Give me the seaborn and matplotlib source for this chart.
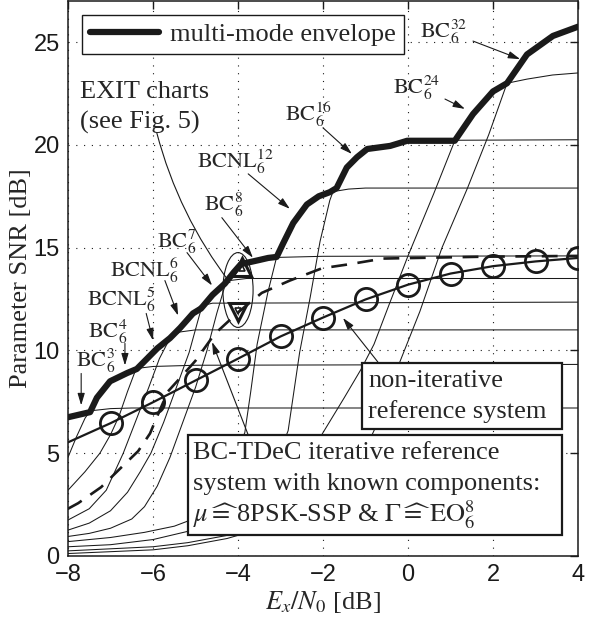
import matplotlib
matplotlib.use("Agg")
import matplotlib.pyplot as plt
import seaborn as sns
from matplotlib.patches import Ellipse, Rectangle

# ---------------- data ----------------
bc3_x = [-8, -7.8, -7.6, -7.4, -7.0, -6.5, -5.0, 4]
bc3_y = [6.72, 6.8, 6.95, 7.08, 7.17, 7.2, 7.2, 7.2]

bc4_x = [-8, -7.8, -7.6, -7.45, -7.3, -7.1, -6.9, -6.6, -6.4, -6.0, -5.0, 4]
bc4_y = [4.8, 5.8, 6.7, 7.15, 7.7, 8.2, 8.6, 8.95, 9.12, 9.22, 9.28, 9.32]

bcnl5_x = [-8, -7.6, -7.25, -7.0, -6.8, -6.6, -6.4, -6.15, -5.9, -5.6, -5.36, -5.0, 4]
bcnl5_y = [3.2, 4.1, 5.0, 5.9, 6.8, 8.0, 9.1, 9.6, 10.1, 10.65, 10.9, 11.0, 11.0]

bcnl6_x = [-8, -7.5, -7.1, -6.7, -6.4, -6.1, -5.85, -5.6, -5.36, -5.06, -4.9, -4.6, 4]
bcnl6_y = [1.75, 2.3, 3.2, 5.0, 6.6, 8.2, 9.6, 10.6, 11.15, 11.8, 12.15, 12.3, 12.35]

bc7_x = [-8, -7.5, -7.0, -6.6, -6.3, -6.05, -5.75, -5.45, -5.15, -4.87, -4.6, -4.4, -4.2, -3.8, 4]
bc7_y = [1.26, 1.6, 2.2, 3.1, 4.1, 5.0, 6.5, 8.2, 9.9, 12.0, 12.7, 13.1, 13.4, 13.5, 13.5]

bc8_x = [-8, -7.5, -7.0, -6.5, -6.2, -5.9, -5.6, -5.3, -5.0, -4.73, -4.5, -4.3, -4.1,
         -3.93, -3.6, -3.29, -3.0, -2.0, 4]
bc8_y = [0.95, 1.1, 1.35, 1.8, 2.4, 3.4, 4.8, 6.5, 8.2, 10.0, 11.8, 13.2, 13.8,
         14.2, 14.4, 14.5, 14.53, 14.58, 14.6]

bcnl12_x = [-8, -7, -6.2, -5.5, -5.18, -4.8, -4.5, -4.2, -3.84, -3.7, -3.55, -3.3, -3.09,
            -2.94, -2.7, -2.38, -2.1, -1.84, -1.4, -1.0, 4]
bcnl12_y = [0.7, 0.9, 1.15, 1.45, 1.7, 2.2, 3.0, 4.3, 6.0, 8.0, 10.3, 12.8, 14.55,
            15.2, 16.2, 17.1, 17.5, 17.7, 17.85, 17.9, 17.9]

bc16_x = [-8, -7, -6, -5.18, -4.6, -4.0, -3.5, -3.1, -2.82, -2.55, -2.3, -2.07, -1.84,
          -1.76, -1.6, -1.44, -1.2, -0.96, -0.42, -0.02, 0.5, 4]
bc16_y = [0.45, 0.55, 0.8, 1.2, 1.6, 2.3, 3.3, 4.6, 6.1, 9.9, 12.6, 15.3, 17.3,
          17.75, 18.3, 18.9, 19.4, 19.8, 19.95, 20.2, 20.22, 20.25]

bc24_x = [-8, -6, -5.18, -4.26, -3.5, -2.8, -2.0, -1.5, -1.1, -0.8, -0.45, 0.0, 0.6,
          1.1, 1.53, 2.0, 2.33, 2.8, 3.4, 4]
bc24_y = [0.25, 0.45, 0.65, 1.0, 1.8, 3.2, 6.0, 7.7, 9.1, 10.3, 12.2, 14.6, 17.6,
          20.2, 21.5, 22.6, 23.0, 23.2, 23.4, 23.5]

bc32_x = [-8, -6, -5.18, -4.26, -3.5, -2.5, -1.5, -1.0, -0.6, -0.2, 0.28, 0.8, 1.4,
          1.9, 2.33, 2.8, 3.41, 4.0]
bc32_y = [0.12, 0.3, 0.5, 0.85, 1.3, 2.2, 3.8, 5.2, 7.0, 9.4, 11.9, 15.0, 17.9,
          20.5, 23.0, 24.4, 25.3, 25.75]

env_x = [-8, -7.48, -7.32, -7.01, -6.61, -6.38, -6.14, -5.9, -5.6, -5.36, -5.06, -4.87,
         -4.6, -4.31, -4.1, -3.93, -3.5, -3.29, -3.09, -2.94, -2.7, -2.38, -2.1, -1.84,
         -1.68, -1.44, -1.2, -0.96, -0.42, -0.02, 1.1, 1.53, 2.0, 2.33, 2.8, 3.41, 4.0]
env_y = [6.75, 7.0, 7.7, 8.5, 8.9, 9.1, 9.6, 10.1, 10.6, 11.1, 11.8, 12.04,
         12.7, 13.25, 13.8, 14.2, 14.4, 14.5, 14.55, 15.2, 16.2, 17.1, 17.5, 17.7,
         17.9, 18.9, 19.4, 19.8, 19.95, 20.2, 20.2, 21.5, 22.6, 23.0, 24.4, 25.3, 25.75]

nonit_x = [-8, -7, -6, -5, -4, -3, -2, -1, 0, 1, 2, 3, 4]
nonit_y = [5.53, 6.46, 7.48, 8.54, 9.6, 10.68, 11.6, 12.48, 13.2, 13.74, 14.1, 14.33, 14.5]

tdec_x = [-8, -7.76, -7.22, -6.75, -6.35, -6.07, -5.88, -5.65, -5.3, -5.0, -4.55, -4.0,
          -3.44, -2.78, -2.02, -1.36, -0.59, 0.2, 1.76, 4]
tdec_y = [2.3, 2.57, 3.35, 4.3, 5.1, 5.96, 6.9, 8.0, 8.8, 9.5, 10.8, 11.85,
          12.8, 13.4, 14.0, 14.2, 14.47, 14.5, 14.56, 14.6]

exit_up = (-3.91, 14.07)
exit_down = (-3.99, 11.88)

curve_labels = [r"$\mathrm{BC}_6^{32}$", r"$\mathrm{BC}_6^{24}$", r"$\mathrm{BC}_6^{16}$",
                r"$\mathrm{BCNL}_6^{12}$", r"$\mathrm{BC}_6^{8}$", r"$\mathrm{BC}_6^{7}$",
                r"$\mathrm{BCNL}_6^{6}$", r"$\mathrm{BCNL}_6^{5}$", r"$\mathrm{BC}_6^{4}$",
                r"$\mathrm{BC}_6^{3}$"]
label_pos = [(0.85, 25.5), (0.21, 22.8), (-2.33, 21.5), (-4.05, 19.2), (-4.33, 17.1),
             (-5.44, 15.3), (-6.21, 13.9), (-6.75, 12.45), (-7.06, 10.9), (-7.36, 9.5)]
arrow_from = [(1.53, 25.05), (0.87, 22.23), (-2.0, 20.83), (-3.76, 18.59), (-4.38, 16.46),
              (-5.2, 14.76), (-5.72, 13.4), (-6.16, 11.8), (-6.66, 10.34), (-7.69, 8.88)]
arrow_to = [(2.64, 24.17), (1.34, 21.75), (-1.32, 19.56), (-2.78, 16.89), (-3.65, 14.51),
            (-4.61, 13.16), (-5.41, 11.7), (-6.0, 10.49), (-6.66, 9.27), (-7.69, 7.33)]

xticks = [-8, -6, -4, -2, 0, 2, 4]
yticks = [0, 5, 10, 15, 20, 25]

# ---------------- style ----------------
sns.set_theme(style="white")
plt.rcParams["font.family"] = ["Liberation Serif", "DejaVu Serif"]
plt.rcParams["mathtext.fontset"] = "stix"

FS = 19
LFS = 16
fig = plt.figure(figsize=(6, 6.21), dpi=100)
ax = fig.add_axes([68 / 600, 1 - 556 / 621, 510 / 600, 555 / 621])

thin_curves = [(bc3_x, bc3_y), (bc4_x, bc4_y), (bcnl5_x, bcnl5_y), (bcnl6_x, bcnl6_y),
               (bc7_x, bc7_y), (bc8_x, bc8_y), (bcnl12_x, bcnl12_y), (bc16_x, bc16_y),
               (bc24_x, bc24_y), (bc32_x, bc32_y)]
for xs, ys in thin_curves:
    sns.lineplot(x=xs, y=ys, ax=ax, color="k", lw=0.75, estimator=None, sort=False,
                 legend=False, zorder=2)

sns.lineplot(x=tdec_x, y=tdec_y, ax=ax, color="k", lw=1.9, estimator=None, sort=False,
             legend=False, linestyle=(0, (6, 4)), zorder=3)

sns.lineplot(x=nonit_x, y=nonit_y, ax=ax, color="k", lw=1.6, estimator=None, sort=False,
             legend=False, marker="o", markersize=16, markerfacecolor="none",
             markeredgecolor="k", markeredgewidth=2.0, markevery=list(range(1, 13)),
             zorder=3)

sns.lineplot(x=env_x, y=env_y, ax=ax, color="k", lw=4.5, estimator=None, sort=False,
             legend=False, zorder=4)
env_line = ax.get_lines()[-1]

# EXIT chart markers + ellipse
ax.plot([exit_up[0]], [exit_up[1]], marker="^", ms=13, mfc="none", mec="k", mew=2.2,
        ls="none", zorder=6)
ax.plot([exit_up[0]], [exit_up[1] - 0.05], marker="^", ms=5, mfc="none", mec="k",
        mew=1.2, ls="none", zorder=6)
ax.plot([exit_down[0]], [exit_down[1]], marker="v", ms=13, mfc="none", mec="k", mew=2.2,
        ls="none", zorder=6)
ax.plot([exit_down[0]], [exit_down[1] + 0.05], marker="v", ms=5, mfc="none", mec="k",
        mew=1.2, ls="none", zorder=6)
ax.add_patch(Ellipse((-4.0, 12.94), width=0.71, height=3.64, fill=False, lw=0.8,
                     ec="k", zorder=5))

# axes
ax.set_xlim(-8, 4)
ax.set_ylim(0, 27)
ax.set_xticks(xticks)
ax.set_yticks(yticks)
ax.grid(True, color="k", lw=0.8, ls=(0, (1, 6)))
ax.tick_params(direction="in", length=6, width=1, top=True, right=True,
               labelsize=17, labelfontfamily="Liberation Sans", colors="k", pad=6)
for sp in ax.spines.values():
    sp.set_color("k")
    sp.set_linewidth(1.1)
ax.set_xlabel(r"$E_x/N_0$ [dB]", fontsize=FS, labelpad=2)
ax.set_ylabel("Parameter SNR [dB]", fontsize=FS, labelpad=1)

# legend
leg = ax.legend([env_line], ["multi-mode envelope"], loc="upper left",
                bbox_to_anchor=(14 / 510, (556 - 15) / 555), borderaxespad=0,
                frameon=True, fancybox=False, edgecolor="k", framealpha=1,
                borderpad=0.3, handlelength=2.6, handletextpad=0.45, fontsize=FS)
leg.get_frame().set_linewidth(1.0)
leg.set_zorder(10)

# curve labels and arrows
arrow_kw = dict(arrowstyle="-|>,head_length=0.6,head_width=0.18", color="k", lw=0.8,
                shrinkA=0, shrinkB=0)
for lab, pos, a0, a1 in zip(curve_labels, label_pos, arrow_from, arrow_to):
    ax.text(pos[0], pos[1], lab, fontsize=LFS, ha="center", va="center", zorder=7)
    ax.annotate("", xy=a1, xytext=a0, arrowprops=arrow_kw, zorder=7)

# EXIT chart text
ax.text(-7.72, 22.28, "EXIT charts", fontsize=FS, va="baseline", zorder=7)
ax.text(-7.72, 20.78, "(see Fig. 5)", fontsize=FS, va="baseline", zorder=7)
ax.annotate("", xy=(-4.19, 13.3), xytext=(-5.91, 20.58),
            arrowprops=dict(arrowstyle="-", color="k", lw=0.8, shrinkA=0, shrinkB=0,
                            connectionstyle="arc3,rad=0.1"), zorder=7)

# non-iterative box
ax.add_patch(Rectangle((-1.08, 6.2), 4.70, 3.17, fc="white", ec="k", lw=1.6, zorder=8))
ax.text(-0.94, 8.22, "non-iterative", fontsize=FS, va="baseline", zorder=9)
ax.text(-0.94, 6.71, "reference system", fontsize=FS, va="baseline", zorder=9)
ax.annotate("", xy=(-1.53, 11.58), xytext=(-0.71, 9.44), arrowprops=arrow_kw, zorder=7)

# BC-TDeC box
ax.add_patch(Rectangle((-5.18, 1.02), 8.80, 4.85, fc="white", ec="k", lw=1.6, zorder=8))
ax.text(-5.06, 4.72, "BC-TDeC iterative reference", fontsize=FS, va="baseline", zorder=9)
ax.text(-5.06, 3.21, "system with known components:", fontsize=FS, va="baseline", zorder=9)
ax.text(-5.06, 1.65, r"$\mu\widehat{=}\,$8PSK-SSP & $\Gamma\widehat{=}\,\mathrm{EO}_6^8$",
        fontsize=FS, va="baseline", zorder=9)
ax.annotate("", xy=(-4.61, 10.41), xytext=(-3.76, 5.89), arrowprops=arrow_kw, zorder=7)

fig.savefig("out.png", dpi=100)
